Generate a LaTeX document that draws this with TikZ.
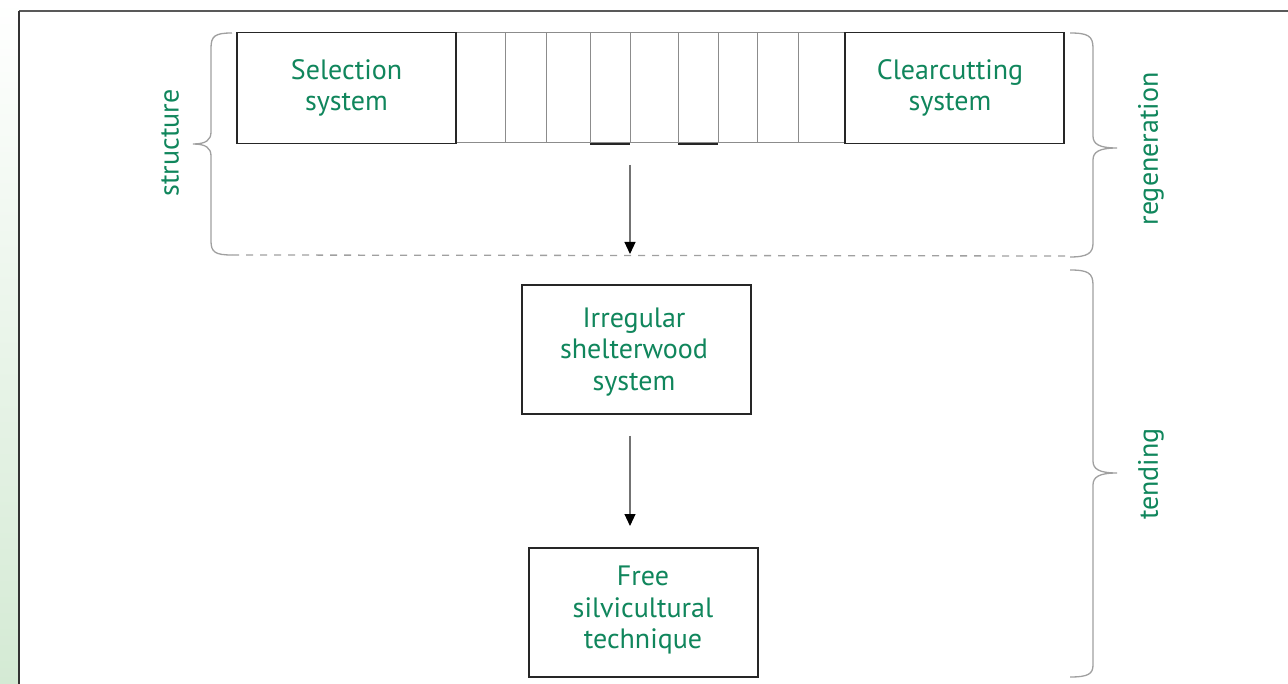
\documentclass[tikz,border=0pt]{standalone}
\usepackage{fontspec}
\setmainfont{PT Sans}
\usetikzlibrary{arrows.meta}
\definecolor{txtgreen}{RGB}{16,134,92}
\definecolor{bracegray}{RGB}{160,160,160}
\definecolor{stripgreen}{RGB}{212,234,212}
\tikzset{
  every node/.style={font=\fontsize{28}{31.5}\selectfont, text=txtgreen, align=center},
  boxnode/.style={draw=black!85, line width=1.8pt, inner sep=0pt},
  thinline/.style={draw=black!45, line width=1pt},
  bracestyle/.style={draw=bracegray, line width=1.3pt},
  arrowstyle/.style={draw=black!55, line width=1.1pt, -{Triangle[length=12pt,width=11pt,color=black]}},
  sidelabel/.style={rotate=90}
}
\begin{document}
\begin{tikzpicture}[x=1pt,y=-1pt]
\useasboundingbox (0,0) rectangle (1288,684);
\fill[white] (0,0) rectangle (1288,684);
% left gradient strip
\shade[top color=white, bottom color=stripgreen] (0,0) rectangle (18,684);
% frame
\draw[black!65, line width=1.2pt] (19,11) -- (1288,11);
\draw[black!80, line width=2pt] (19,11) -- (19,684);

% row of systems
\draw[thinline] (456,33) -- (845,33);
\draw[thinline] (456,143) -- (845,143);
\foreach \xx in {505,546,590,630,678,718,757,798}
  \draw[thinline] (\xx,33) -- (\xx,143);
\draw[black!85, line width=1.6pt] (590,144) -- (630,144);
\draw[black!85, line width=1.6pt] (678,144) -- (718,144);

\node[boxnode, minimum width=219pt, minimum height=111pt] (sel) at (346.5,88) {};
\node (seltxt) at (346.5,88) {Selection\\system};
\node[boxnode, minimum width=219pt, minimum height=111pt] (clr) at (954.5,88) {};
\node (clrtxt) at (950,88) {Clearcutting\\system};

\node[boxnode, minimum width=229pt, minimum height=129pt] (irr) at (636.5,349.5) {};
\node (irrtxt) at (634,352) {Irregular\\shelterwood\\system};
\node[boxnode, minimum width=229pt, minimum height=129pt] (free) at (643.5,612.5) {};
\node (freetxt) at (643,610) {Free\\silvicultural\\technique};

% arrows
\coordinate (a1s) at (630,165);
\coordinate (a1e) at (630,254);
\draw[arrowstyle] (a1s) -- (a1e);
\coordinate (a2s) at (630,436);
\coordinate (a2e) at (630,526);
\draw[arrowstyle] (a2s) -- (a2e);

% dashed separation
\coordinate (dl) at (232,255);
\coordinate (dr) at (1070,256);
\draw[bracegray, line width=1.3pt, dash pattern=on 7pt off 7pt] (dl) -- (dr);

% left brace (structure)
\draw[bracestyle] (232,33) .. controls (215,33) and (211,36) .. (211,48) -- (211,132)
  .. controls (211,140) and (206,144) .. (193,144)
  .. controls (206,144) and (211,148) .. (211,156) -- (211,241)
  .. controls (211,252) and (215,255) .. (232,255);
% right brace (regeneration)
\draw[bracestyle] (1070,33) .. controls (1088,33) and (1093,36) .. (1093,48) -- (1093,136)
  .. controls (1093,144) and (1099,148) .. (1117,148)
  .. controls (1099,148) and (1093,152) .. (1093,160) -- (1093,243)
  .. controls (1093,253) and (1088,257) .. (1070,257);
% right brace (tending)
\draw[bracestyle] (1070,270) .. controls (1088,270) and (1093,273) .. (1093,285) -- (1093,461)
  .. controls (1093,469) and (1099,473) .. (1117,473)
  .. controls (1099,473) and (1093,477) .. (1093,485) -- (1093,665)
  .. controls (1093,674) and (1088,677) .. (1070,677);

\node[sidelabel] (lstruct) at (170,143) {structure};
\node[sidelabel] (lregen) at (1151,149) {regeneration};
\node[sidelabel] (ltend) at (1151,474) {tending};
\end{tikzpicture}
\end{document}
